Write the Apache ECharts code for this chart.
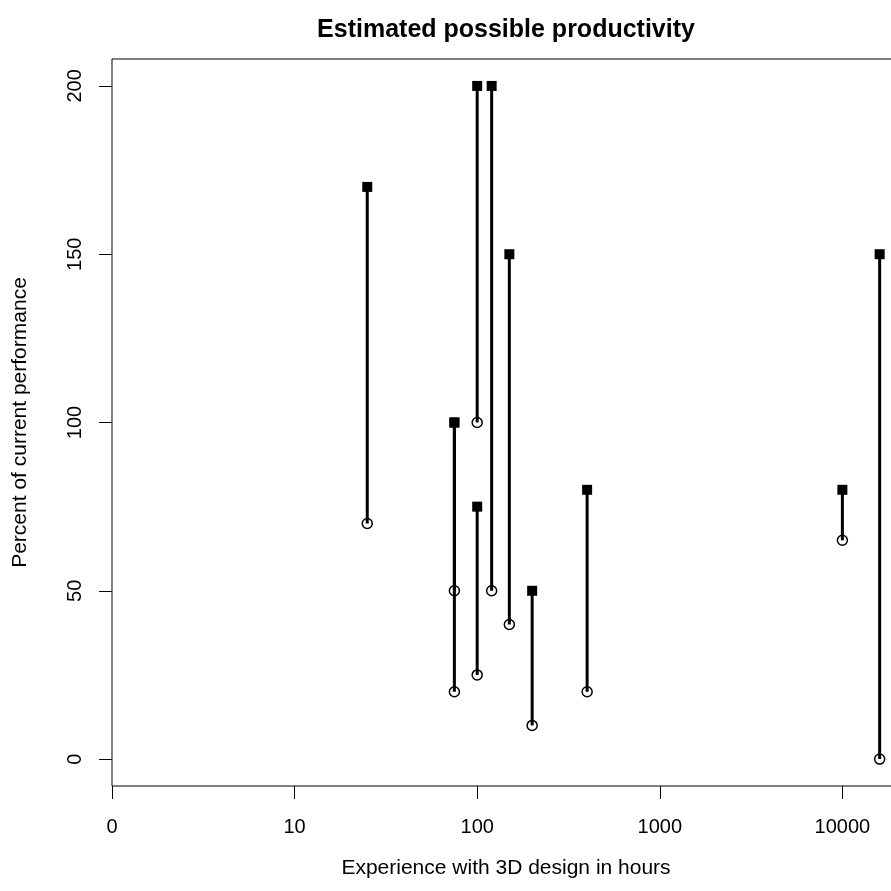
<!DOCTYPE html>
<html>
<head>
<meta charset="utf-8">
<script src="https://cdn.jsdelivr.net/npm/echarts@6/dist/echarts.min.js"></script>
<style>
html,body{margin:0;padding:0;background:#fff;}
#chart{width:891px;height:891px;}
</style>
</head>
<body>
<div id="chart"></div>
<script>
// Data (hours of experience, current (low) and possible (high) productivity in %)
const hours = [25, 75, 75, 100, 100, 120, 150, 200, 400, 10000, 16000];
const lowVals = [70, 50, 20, 100, 25, 50, 40, 10, 20, 65, 0];
const highVals = [170, 100, 100, 200, 75, 200, 150, 50, 80, 80, 150];
const xTickValues = [1, 10, 100, 1000, 10000];
const xTickLabels = ['0', '10', '100', '1000', '10000'];
const yTickValues = [0, 50, 100, 150, 200];

const FONT = 'Liberation Sans, Arial, Helvetica, sans-serif';

const segData = hours.map((h, i) => [h, lowVals[i], highVals[i]]);
const lowData = hours.map((h, i) => [h, lowVals[i]]);
const highData = hours.map((h, i) => [h, highVals[i]]);

const chart = echarts.init(document.getElementById('chart'), null, {renderer: 'canvas'});

chart.setOption({
  animation: false,
  backgroundColor: '#ffffff',
  title: {
    text: 'Estimated possible productivity',
    left: 506,
    textAlign: 'center',
    top: 18,
    padding: 0,
    textStyle: {fontFamily: FONT, fontSize: 25, fontWeight: 'bold', color: '#000'}
  },
  grid: {
    left: 112, right: -9, top: 59, bottom: 105,
    show: true, borderColor: '#000', borderWidth: 1, backgroundColor: 'transparent',
    containLabel: false,
    outerBoundsMode: 'none'
  },
  xAxis: {
    type: 'log',
    logBase: 10,
    min: 1,
    max: 20680,
    name: 'Experience with 3D design in hours',
    nameLocation: 'middle',
    nameGap: 72,
    nameTextStyle: {fontFamily: FONT, fontSize: 21, color: '#000'},
    axisLine: {show: false, onZero: false},
    splitLine: {show: false},
    minorTick: {show: false},
    axisTick: {show: true, inside: false, length: 13, lineStyle: {color: '#000', width: 1}},
    axisLabel: {
      margin: 31,
      fontFamily: FONT, fontSize: 20, color: '#000',
      formatter: function (v) {
        for (let i = 0; i < xTickValues.length; i++) {
          if (Math.abs(v - xTickValues[i]) < 1e-6 * xTickValues[i]) return xTickLabels[i];
        }
        return '';
      }
    }
  },
  yAxis: {
    type: 'value',
    min: -8,
    max: 208,
    name: 'Percent of current performance',
    nameLocation: 'middle',
    nameRotate: 90,
    nameGap: 81,
    nameTextStyle: {fontFamily: FONT, fontSize: 21, color: '#000'},
    axisLine: {show: false, onZero: false},
    splitLine: {show: false},
    axisTick: {show: true, inside: false, length: 13, customValues: yTickValues, lineStyle: {color: '#000', width: 1}},
    axisLabel: {
      customValues: yTickValues,
      rotate: 90,
      margin: 27,
      fontFamily: FONT, fontSize: 20, color: '#000'
    }
  },
  series: [
    {
      type: 'custom',
      data: segData,
      encode: {x: 0, y: [1, 2]},
      renderItem: function (params, api) {
        const x = api.value(0);
        const p1 = api.coord([x, api.value(1)]);
        const p2 = api.coord([x, api.value(2)]);
        return {
          type: 'line',
          shape: {x1: p1[0], y1: p1[1], x2: p2[0], y2: p2[1]},
          style: {stroke: '#000', lineWidth: 3}
        };
      },
      z: 1
    },
    {
      type: 'scatter',
      data: lowData,
      symbol: 'circle',
      symbolSize: 10,
      itemStyle: {color: 'rgba(0,0,0,0)', borderColor: '#000', borderWidth: 1.5, opacity: 1},
      z: 2
    },
    {
      type: 'scatter',
      data: highData,
      symbol: 'rect',
      symbolSize: 10,
      itemStyle: {color: '#000', opacity: 1},
      z: 3
    }
  ]
});
</script>
</body>
</html>
